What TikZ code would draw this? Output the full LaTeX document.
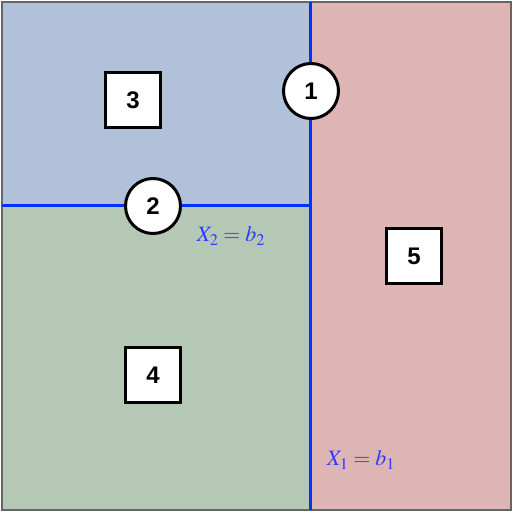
\documentclass[tikz,border=0pt]{standalone}
\usepackage{mathptmx}
\usepackage{fontspec}
\newfontfamily\labelfont{Liberation Sans}
\definecolor{regblue}{RGB}{177,193,217}
\definecolor{reggreen}{RGB}{181,200,181}
\definecolor{regred}{RGB}{222,181,181}
\definecolor{splitblue}{RGB}{0,51,255}
\definecolor{textblue}{RGB}{40,60,255}
\tikzset{
  leaf/.style={draw=black, line width=3pt, fill=white, minimum size=55pt, inner sep=0pt, font=\labelfont\fontsize{24}{26}\selectfont\bfseries},
  split/.style={draw=black, line width=3pt, fill=white, circle, minimum size=55pt, inner sep=0pt, font=\labelfont\fontsize{24}{26}\selectfont\bfseries},
  cut/.style={draw=splitblue, line width=3pt},
  cutlabel/.style={text=textblue, font=\fontsize{22}{24}\selectfont}
}
\begin{document}
\begin{tikzpicture}[x=1pt,y=1pt]
  \useasboundingbox (0,0) rectangle (512,514);
  % regions
  \fill[regblue] (2,308) rectangle (310,512);
  \fill[reggreen] (2,4) rectangle (310,308);
  \fill[regred] (310,4) rectangle (511,512);
  \draw[black!60, line width=1.5pt] (2,4) rectangle (511,512);

  % split lines
  \coordinate (top) at (310,512);
  \coordinate (bot) at (310,4);
  \coordinate (left) at (2,308);
  \coordinate (mid) at (310,308);
  \draw[cut] (top) -- (bot);
  \draw[cut] (left) -- (mid);

  % nodes
  \node[split] (s1) at (311,423) {1};
  \node[split] (s2) at (153,308) {2};
  \node[leaf] (r3) at (133,414) {3};
  \node[leaf] (r4) at (153,139) {4};
  \node[leaf] (r5) at (414,258) {5};

  \node[cutlabel] (x2) at (231,278) {$X_2 = b_2$};
  \node[cutlabel] (x1) at (361,54) {$X_1 = b_1$};
\end{tikzpicture}
\end{document}
